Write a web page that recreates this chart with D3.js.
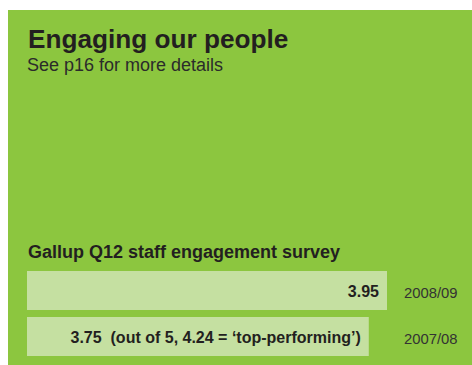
<!DOCTYPE html>
<html>
<head>
<meta charset="utf-8">
<script src="https://cdn.jsdelivr.net/npm/d3@7"></script>
<style>
    body { margin: 0; background: #fff; }
    text { font-family: "Liberation Sans", Arial, Helvetica, sans-serif; }
</style>
</head>
<body>
<svg id="chart" width="472" height="365"></svg>
<script>
// Survey scores, most recent first
var years = ["2008/09", "2007/08"];
var scores = [3.95, 3.75];
var barNotes = ["", "  (out of 5, 4.24 = \u2018top-performing\u2019)"];
var maxScore = 5;

var svg = d3.select("#chart");

// Green panel
svg.append("rect")
    .attr("x", 8)
    .attr("y", 10)
    .attr("width", 464)
    .attr("height", 355)
    .attr("fill", "#8cc63f");

// Headings
svg.append("text")
    .attr("x", 28)
    .attr("y", 48)
    .attr("font-size", 26.2)
    .attr("font-weight", "bold")
    .attr("fill", "#231f20")
    .text("Engaging our people");

svg.append("text")
    .attr("x", 27)
    .attr("y", 71)
    .attr("font-size", 18)
    .attr("fill", "#2b2b2b")
    .text("See p16 for more details");

svg.append("text")
    .attr("x", 28)
    .attr("y", 258)
    .attr("font-size", 18)
    .attr("font-weight", "bold")
    .attr("fill", "#231f20")
    .text("Gallup Q12 staff engagement survey");

// Scales
var x = d3.scaleLinear()
    .domain([0, maxScore])
    .range([27, 27 + 455.7]);

var y = d3.scaleBand()
    .domain(years)
    .range([271, 356])
    .paddingInner(7 / 46)
    .paddingOuter(0);

var data = years.map(function(d, i) {
    return { year: d, score: scores[i], note: barNotes[i] };
});

var bars = svg.append("g").attr("class", "bars");

bars.selectAll("rect")
    .data(data)
    .enter().append("rect")
    .attr("x", x(0))
    .attr("y", function(d) { return y(d.year); })
    .attr("width", function(d) { return x(d.score) - x(0); })
    .attr("height", y.bandwidth())
    .attr("fill", "#c5e0a1");

// Value labels inside the bars, right aligned
bars.selectAll("text.value")
    .data(data)
    .enter().append("text")
    .attr("class", "value")
    .attr("x", function(d) { return x(d.score) - 8; })
    .attr("y", function(d) { return y(d.year) + y.bandwidth() / 2 + 6.5; })
    .attr("text-anchor", "end")
    .attr("font-size", 16)
    .attr("font-weight", "bold")
    .attr("fill", "#231f20")
    .style("white-space", "pre")
    .text(function(d) { return d.score.toFixed(2) + d.note; });

// Year labels
svg.append("g").selectAll("text")
    .data(data)
    .enter().append("text")
    .attr("x", 404)
    .attr("y", function(d) { return y(d.year) + y.bandwidth() / 2 + 7; })
    .attr("font-size", 14.8)
    .attr("fill", "#333333")
    .text(function(d) { return d.year; });
</script>
</body>
</html>
